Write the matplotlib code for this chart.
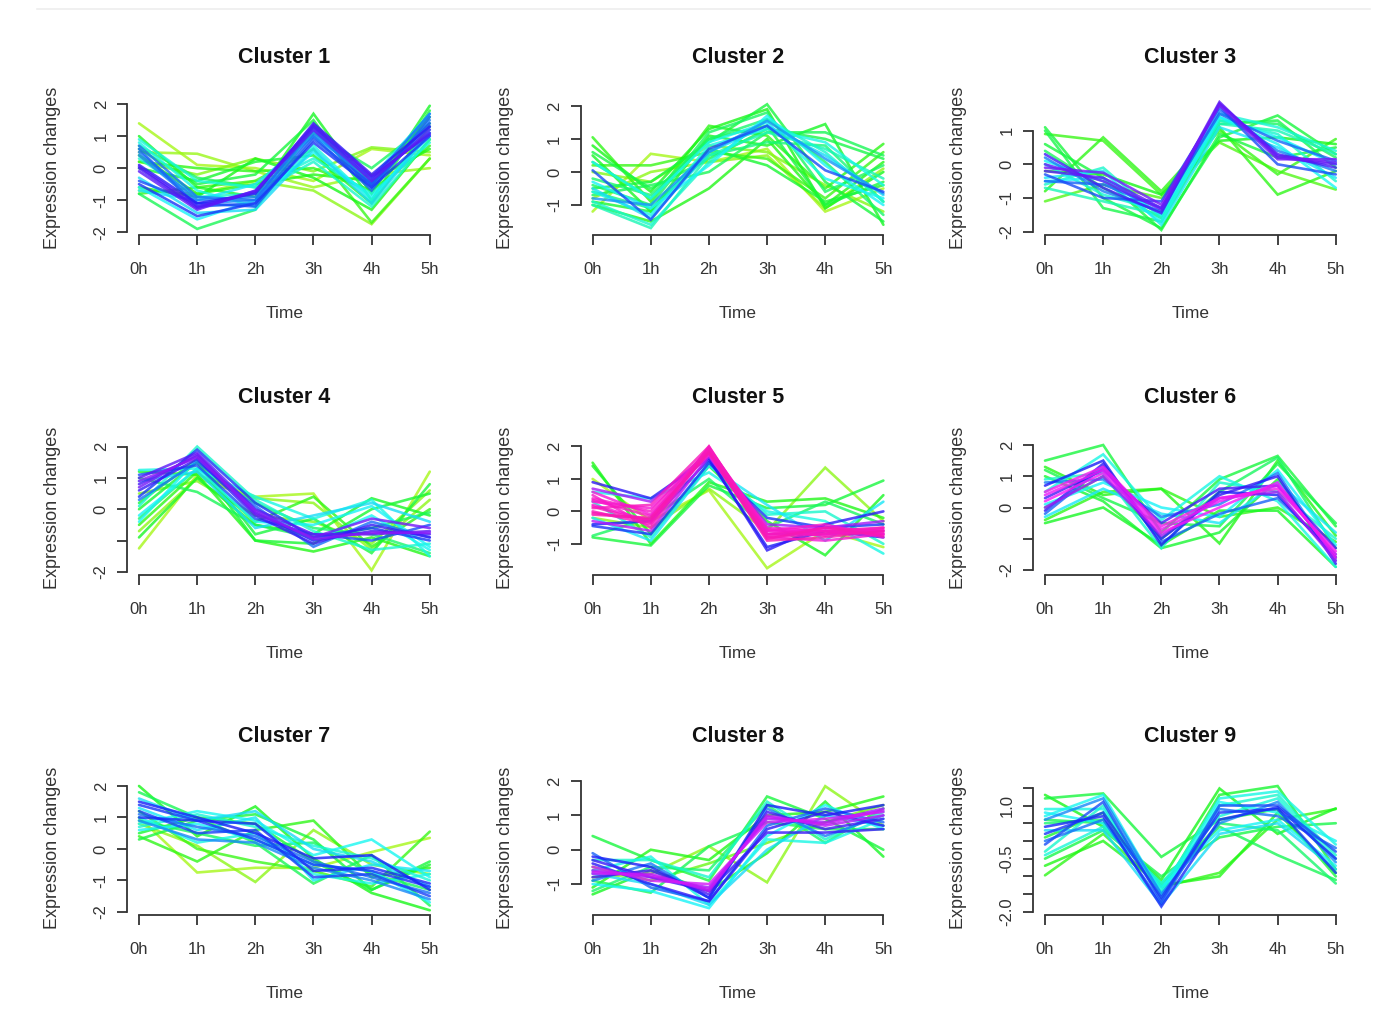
import matplotlib
matplotlib.use("Agg")
import matplotlib.pyplot as plt
from matplotlib.colors import hsv_to_rgb
from matplotlib.lines import Line2D

plt.rcParams['font.family'] = ['Liberation Sans', 'DejaVu Sans']

time_labels = ['0h', '1h', '2h', '3h', '4h', '5h']
cluster_titles = ['Cluster %d' % i for i in range(1, 10)]

# ---- Cluster 1 ----
c1_values = [
    [1.4, 0.1, 0.0, -0.4, 0.6, 0.4], [0.5, 0.45, -0.1, -0.6, -0.2, 0.0],
    [-0.7, -0.8, -0.4, -0.7, -1.75, 0.3], [0.2, -0.2, 0.3, -0.1, 0.65, 0.5],
    [1.0, -0.6, -0.9, 1.7, -0.8, 1.95], [0.6, -0.5, -0.2, 1.5, -1.0, 1.8],
    [-0.8, -1.9, -1.3, 1.3, -0.5, 1.6], [0.2, 0.0, -0.1, 0.0, -0.7, 0.7],
    [-0.6, -0.9, 0.3, -0.3, -1.3, 0.9], [0.4, -0.8, -0.5, -0.2, -0.4, 0.6],
    [-0.8, -0.6, -0.4, 0.6, -1.7, 0.3], [0.7, -0.3, -0.6, 1.1, 0.0, 1.4],
    [0.0, -0.4, 0.2, 0.4, -1.1, 1.3],
    [0.8, -0.7, -1.2, 0.7, -1.0, 1.2], [-0.6, -1.6, -1.0, 0.5, -0.9, 1.0],
    [0.3, -0.9, -0.8, 0.2, -1.2, 0.9], [-0.3, -1.4, -1.3, 0.6, -1.1, 1.1],
    [0.9, -0.4, -0.6, 0.3, -0.8, 0.8], [-0.7, -1.0, -0.5, 1.0, -0.3, 1.7],
    [0.5, -1.0, -0.9, 1.2, -0.6, 1.5], [0.6, -1.2, -1.1, 1.0, -0.7, 1.6],
    [-0.4, -1.1, -1.2, 0.9, -0.5, 1.4], [-0.5, -1.5, -1.1, 0.8, -0.6, 1.0],
    [0.4, -1.1, -1.0, 1.1, -0.5, 1.3], [0.7, -0.9, -1.0, 1.3, -0.4, 1.7],
    [0.0, -1.25, -0.75, 1.3, -0.3, 1.1], [0.1, -1.1, -0.8, 1.4, -0.2, 1.3],
    [-0.1, -1.3, -0.7, 1.2, -0.4, 1.2], [0.05, -1.2, -0.72, 1.35, -0.25, 1.05],
]
c1_membership = [0.15, 0.16, 0.17, 0.18,
                 0.28, 0.3, 0.32, 0.25, 0.27, 0.26, 0.24, 0.33, 0.29,
                 0.44, 0.46, 0.42, 0.48, 0.43, 0.47,
                 0.56, 0.58, 0.6, 0.62, 0.55, 0.57,
                 0.68, 0.66, 0.7, 0.69]

# ---- Cluster 2 ----
c2_values = [
    [-1.2, 0.55, 0.3, 0.7, -1.2, -0.5], [-0.8, 0.0, 0.3, 0.5, -1.1, 0.1],
    [0.0, -0.3, 0.8, 0.6, -0.4, -1.2],
    [1.05, -0.9, 1.4, 1.1, -0.5, 0.85], [0.8, -0.6, 1.3, 1.9, -1.1, 0.0],
    [-0.5, -0.3, 0.9, 2.05, -0.3, -1.5], [0.5, -1.2, 1.1, 0.8, 1.45, -1.6],
    [-0.7, -0.4, 0.0, 1.2, 1.2, 0.5], [-1.0, -1.5, -0.5, 1.0, -1.0, 0.3],
    [0.2, 0.2, 0.6, 0.4, -0.8, 0.6], [-0.2, -0.7, 1.0, 1.6, 0.3, -1.3],
    [-0.9, -1.2, 0.7, 0.2, -0.9, -0.4], [0.6, -0.5, 0.4, 1.3, 1.0, 0.4],
    [-0.4, -1.0, 1.2, 1.8, -0.6, 0.2], [0.3, -0.8, 1.0, 1.4, -1.0, -0.3],
    [-0.6, -1.1, 0.5, 0.9, 0.8, -0.9],
    [-0.9, -1.6, 0.3, 1.6, 0.6, -0.9], [-0.6, -1.3, 0.8, 1.3, 0.9, -0.4],
    [-0.3, -1.1, 0.2, 1.7, 0.2, -1.0], [-1.0, -1.7, 0.5, 1.2, 0.7, -0.2],
    [0.3, -0.8, 0.9, 1.5, -0.2, -0.8], [-0.5, -1.4, 0.6, 1.4, 0.5, -0.7],
    [-0.8, -1.0, 0.6, 1.55, 0.4, -0.65], [0.05, -1.45, 0.7, 1.4, 0.05, -0.6],
]
c2_membership = [0.15, 0.17, 0.18,
                 0.25, 0.27, 0.3, 0.28, 0.32, 0.26, 0.24, 0.34, 0.29, 0.31, 0.33,
                 0.3, 0.35,
                 0.42, 0.44, 0.46, 0.4, 0.45, 0.48,
                 0.54, 0.6]

# ---- Cluster 3 ----
c3_values = [
    [1.1, -1.0, -1.9, 0.8, 1.45, 0.3], [0.9, 0.7, -0.9, 1.0, -0.3, 0.75],
    [-1.1, -0.6, -1.0, 0.65, -0.2, -0.75], [1.0, -1.3, -1.7, 1.2, 1.3, -0.1],
    [-0.8, 0.8, -0.8, 1.1, -0.9, -0.2], [0.6, -0.4, -1.95, 0.9, 0.2, 0.5],
    [-0.2, -0.3, -0.9, 0.7, 0.8, 0.6], [0.4, -0.7, -1.6, 1.3, 1.2, 0.2],
    [-0.6, -0.1, -1.6, 1.3, 0.9, -0.5], [0.1, -0.5, -1.7, 1.4, 0.6, -0.7],
    [-0.7, -1.1, -1.5, 1.2, 1.0, 0.3], [-0.4, -0.2, -1.8, 1.1, 0.5, -0.4],
    [0.0, -0.9, -1.4, 1.5, 1.1, 0.4], [-0.5, -0.4, -1.5, 1.4, 0.8, 0.0],
    [0.2, -0.8, -1.4, 1.6, 0.4, -0.2], [-0.5, -0.6, -1.3, 1.5, 0.7, 0.1],
    [-0.3, -1.0, -1.1, 1.7, 0.0, -0.3],
    [-0.2, -0.4, -1.3, 1.85, 0.2, 0.0], [0.3, -0.7, -1.45, 1.8, 0.3, -0.1],
    [-0.1, -0.25, -1.2, 1.75, 0.15, 0.15], [0.0, -0.5, -1.35, 1.8, 0.25, 0.05],
]
c3_membership = [0.3, 0.24, 0.22, 0.31, 0.25, 0.3, 0.27, 0.33,
                 0.42, 0.45, 0.4, 0.47, 0.43, 0.46,
                 0.56, 0.58, 0.6,
                 0.7, 0.68, 0.72, 0.71]

# ---- Cluster 4 ----
c4_values = [
    [-1.25, 1.1, 0.4, 0.5, -1.95, 1.2], [-0.7, 1.0, 0.35, 0.2, -1.3, 0.3],
    [0.5, 0.9, -0.2, -0.4, -1.1, 0.6],
    [1.2, 1.1, -1.0, -1.35, -0.9, -1.5], [-0.9, 1.0, -0.5, -0.8, 0.35, -0.2],
    [0.2, 1.6, -0.8, -0.3, -1.4, 0.8], [-0.5, 1.2, -0.4, 0.4, -1.2, 0.0],
    [1.0, 0.55, -0.5, -0.9, -0.6, -0.1], [0.0, 1.5, -1.0, -1.1, 0.0, 0.5],
    [-0.3, 1.3, 0.2, -0.6, -0.8, -1.4],
    [1.25, 1.3, 0.4, -0.3, 0.3, -1.5], [-0.2, 1.3, -0.4, -0.5, 0.1, -1.2],
    [0.1, 2.0, 0.3, -0.7, -1.3, -1.1], [0.9, 1.2, -0.6, -0.2, 0.2, -0.4],
    [-0.4, 1.6, 0.0, -1.0, -0.2, -1.3],
    [0.3, 1.5, 0.1, -1.2, -0.4, -0.9], [1.1, 1.4, -0.3, -0.8, -1.0, -0.5],
    [0.4, 1.9, 0.2, -0.9, -0.6, -1.0],
    [0.8, 1.7, -0.1, -1.0, -0.7, -0.8], [1.0, 1.8, 0.0, -0.8, -0.8, -0.7],
    [0.6, 1.6, -0.2, -1.1, -0.5, -0.9], [0.7, 1.75, -0.15, -0.9, -0.3, -0.6],
    [0.9, 1.65, -0.05, -0.95, -0.75, -0.75],
]
c4_membership = [0.15, 0.17, 0.18,
                 0.26, 0.28, 0.3, 0.25, 0.32, 0.29, 0.34,
                 0.44, 0.46, 0.42, 0.48, 0.45,
                 0.57, 0.6, 0.62,
                 0.68, 0.7, 0.67, 0.72, 0.74]

# ---- Cluster 5 ----
c5_values = [
    [1.0, -0.3, 0.65, -1.75, -0.6, -1.1], [-0.2, -0.5, 0.7, -0.6, 1.35, -0.3],
    [1.5, -1.0, 0.9, 0.3, 0.4, -0.2], [1.4, -0.7, 1.4, -0.3, -1.35, 0.5],
    [-0.8, -1.05, 0.8, 0.1, 0.2, 0.95], [-0.75, -0.2, 1.0, -0.5, 0.3, -0.4],
    [0.6, 0.4, 1.2, 0.0, -0.3, -1.3], [-0.2, -0.9, 1.4, 0.2, -0.9, 0.3],
    [0.3, -0.8, 1.5, -0.1, 0.0, -1.0],
    [0.9, 0.4, 1.65, -1.2, -0.4, 0.0], [-0.4, -0.3, 1.6, -1.1, -0.6, -0.8],
    [-0.45, -0.7, 1.5, -0.2, -0.5, -0.4],
    [0.7, 0.3, 1.8, -0.4, -0.5, -0.3], [-0.3, -0.6, 1.7, -0.7, -0.7, -0.6],
    [0.2, -0.3, 1.95, -0.6, -0.6, -0.7], [0.4, 0.0, 1.9, -0.7, -0.5, -0.6],
    [0.0, -0.4, 2.0, -0.8, -0.7, -0.5], [0.3, 0.1, 1.85, -0.5, -0.6, -0.7],
    [-0.1, -0.2, 1.8, -0.9, -0.8, -0.6], [0.5, -0.5, 1.9, -0.6, -0.4, -0.8],
    [0.1, 0.2, 2.0, -0.7, -0.6, -0.5], [0.6, -0.1, 1.75, -0.8, -0.9, -0.7],
    [0.15, -0.35, 1.9, -0.75, -0.65, -0.65], [0.35, -0.15, 1.95, -0.55, -0.75, -0.55],
    [-0.05, -0.25, 1.85, -0.85, -0.5, -0.75],
]
c5_membership = [0.15, 0.17,
                 0.26, 0.28, 0.3, 0.33,
                 0.44, 0.47, 0.42,
                 0.66, 0.64, 0.62,
                 0.76, 0.78,
                 0.86, 0.87, 0.88, 0.86, 0.89, 0.87, 0.88, 0.86,
                 0.88, 0.87, 0.89]

# ---- Cluster 6 ----
c6_values = [
    [1.5, 2.0, -0.8, 0.9, 1.65, -0.6], [1.3, 0.4, 0.6, -1.15, 1.5, -0.9],
    [-0.5, 0.0, -1.2, -0.1, -0.1, -1.9], [1.2, 0.3, -0.5, -0.6, 1.4, -0.5],
    [-0.4, 0.5, 0.6, -0.3, 0.0, -1.1], [0.0, 1.0, -1.0, 0.5, 1.6, -1.3],
    [1.0, 0.2, -1.3, -0.8, 0.9, -1.6],
    [0.5, 1.7, -0.4, 1.0, 0.2, -1.9], [0.1, 0.8, 0.0, -0.3, 1.2, -1.2],
    [0.9, 1.1, -1.3, 0.8, 0.5, -1.0], [-0.3, 0.6, -0.2, -0.5, 0.8, -0.8],
    [0.8, 0.9, -0.3, 0.1, 1.1, -1.7], [-0.2, 1.3, -1.1, -0.2, 0.3, -1.5],
    [0.7, 1.5, -1.2, 0.5, 0.4, -1.6], [-0.1, 1.4, -1.0, 0.4, 1.0, -1.8],
    [0.3, 1.2, -0.5, 0.6, 0.7, -1.3],
    [0.0, 1.0, -0.9, 0.3, 0.5, -1.7],
    [0.4, 1.2, -0.7, 0.2, 0.7, -1.5], [0.2, 1.1, -0.8, 0.0, 0.8, -1.6],
    [0.5, 1.3, -0.6, 0.3, 0.6, -1.4],
]
c6_membership = [0.3, 0.26, 0.28, 0.31, 0.25, 0.33, 0.29,
                 0.44, 0.46, 0.42, 0.47,
                 0.56, 0.58,
                 0.64, 0.66, 0.68,
                 0.76,
                 0.82, 0.83, 0.84]

# ---- Cluster 7 ----
c7_values = [
    [1.0, -0.75, -0.6, -0.6, -0.1, 0.35], [0.8, 0.1, -1.05, 0.6, -0.5, -0.8],
    [2.0, 0.4, 1.35, -0.3, -1.4, -1.95], [0.3, 0.9, 1.1, 0.3, -1.3, -0.4],
    [1.8, 1.0, 0.2, -1.1, -0.2, -1.8], [0.4, -0.4, 0.6, 0.9, -0.9, -0.6],
    [1.2, 0.0, -0.4, -0.7, -1.2, 0.55], [0.9, 0.5, 0.1, 0.2, -0.8, -1.3],
    [0.5, 1.0, 0.8, -0.4, -1.3, -0.5],
    [0.8, 1.2, 0.9, -0.2, 0.3, -0.9], [1.3, 0.6, 1.0, -1.0, -0.5, -0.7],
    [0.7, 1.1, 0.7, 0.1, -0.3, -1.0], [1.0, 0.2, 0.5, -0.8, -1.1, -0.8],
    [1.6, 0.9, 1.2, 0.0, -0.4, -1.2], [0.6, 0.8, 0.3, -0.5, -0.7, -1.7],
    [0.9, 0.3, 0.2, -0.6, -1.0, -1.6], [1.1, 0.7, 0.4, -0.4, -0.9, -1.4],
    [1.4, 0.9, 0.3, -0.5, -0.7, -1.2], [1.0, 0.9, 0.8, -0.7, -0.6, -1.1],
    [1.5, 1.0, 0.5, -0.3, -0.2, -1.3], [1.2, 0.5, 0.6, -0.9, -0.8, -1.5],
]
c7_membership = [0.15, 0.17,
                 0.27, 0.3, 0.32, 0.25, 0.24, 0.33, 0.29,
                 0.45, 0.47, 0.43, 0.44, 0.48, 0.46,
                 0.55, 0.57,
                 0.62, 0.63, 0.64, 0.61]

# ---- Cluster 8 ----
c8_values = [
    [-0.8, -0.7, 0.1, -0.95, 1.85, 0.7], [-0.5, -0.9, -0.4, 0.2, 0.8, 1.3],
    [0.4, -0.3, -0.9, 1.55, 0.9, 0.0], [-1.3, -0.6, -1.2, -0.1, 1.4, -0.2],
    [-1.1, 0.0, -0.3, 1.0, 1.1, 1.55], [-0.9, -1.25, 0.1, 0.8, 0.6, 0.6],
    [-1.2, -0.5, -0.6, 1.3, 0.2, 1.2],
    [-0.6, -0.2, -1.6, 0.3, 0.2, 0.9], [-1.0, -1.2, -1.7, 0.4, 1.3, 0.6],
    [-0.3, -0.3, -0.8, 1.4, 0.3, 1.1], [-0.7, -1.0, -1.6, 0.0, 1.0, 0.7],
    [-0.9, -0.4, -1.4, 1.2, 0.4, 1.0], [-0.1, -1.1, -1.5, 0.7, 1.2, 0.8],
    [-0.2, -0.5, -1.4, 1.3, 1.0, 1.3], [-0.4, -1.0, -1.5, 0.6, 1.1, 0.7],
    [-0.8, -0.6, -1.3, 1.1, 0.6, 0.9], [-0.3, -0.8, -1.2, 0.5, 0.5, 0.6],
    [-0.6, -0.8, -1.1, 0.9, 0.8, 1.2], [-0.7, -0.7, -1.2, 1.0, 0.7, 1.0],
    [-0.5, -0.9, -1.0, 0.8, 0.9, 1.1], [-0.65, -0.75, -1.15, 0.95, 0.75, 1.15],
]
c8_membership = [0.17, 0.2,
                 0.3, 0.28, 0.26, 0.32, 0.34,
                 0.44, 0.46, 0.42, 0.48,
                 0.56, 0.58,
                 0.64, 0.66, 0.68, 0.67,
                 0.76, 0.78, 0.8, 0.79]

# ---- Cluster 9 ----
c9_values = [
    [1.3, 0.4, -1.1, 1.48, 0.2, 0.92], [1.2, 1.34, -0.45, 0.6, 0.9, -1.0],
    [-0.97, 0.2, -1.3, -0.9, 0.6, 0.9], [-0.7, 0.0, -1.25, -1.0, 0.8, -0.9],
    [0.6, 0.5, -1.2, 0.4, -0.4, -1.1], [0.1, 0.8, -1.45, 1.3, 1.55, -0.8],
    [-0.5, 0.3, -1.0, 0.1, 0.4, 0.5], [0.5, 0.6, -1.3, 0.5, 0.3, -1.2],
    [0.9, 0.9, -1.4, 1.2, 1.4, -0.1], [0.8, 0.5, -1.3, 0.3, 0.6, -0.7],
    [-0.3, 1.0, -1.6, 1.0, 1.3, -0.4], [0.3, 0.3, -1.8, 0.2, 0.5, -0.8],
    [0.7, 1.3, -1.5, 1.1, 0.8, 0.0], [-0.4, 0.4, -1.2, 0.7, 1.2, -0.5],
    [0.6, 1.2, -1.5, 0.5, 1.1, -0.6], [0.0, 0.6, -1.75, 0.9, 0.7, -0.2],
    [0.4, 0.7, -1.85, 0.6, 0.95, -0.5], [-0.1, 1.1, -1.7, 1.0, 1.0, -0.3],
    [0.2, 0.8, -1.6, 0.8, 0.9, -0.9],
]
c9_membership = [0.27, 0.3, 0.25, 0.26, 0.32, 0.29, 0.31, 0.34,
                 0.44, 0.46, 0.42, 0.48, 0.45, 0.43,
                 0.55, 0.57,
                 0.63, 0.6, 0.62]

cluster_values = [c1_values, c2_values, c3_values, c4_values, c5_values,
                  c6_values, c7_values, c8_values, c9_values]
cluster_membership = [c1_membership, c2_membership, c3_membership,
                      c4_membership, c5_membership, c6_membership,
                      c7_membership, c8_membership, c9_membership]

y_ticks = [
    [-2, -1, 0, 1, 2], [-1, 0, 1, 2], [-2, -1, 0, 1],
    [-2, -1, 0, 1, 2], [-1, 0, 1, 2], [-2, -1, 0, 1, 2],
    [-2, -1, 0, 1, 2], [-1, 0, 1, 2], [-2.0, -1.5, -1.0, -0.5, 0.0, 0.5, 1.0, 1.5],
]
y_tick_labels = [
    ['-2', '-1', '0', '1', '2'], ['-1', '0', '1', '2'], ['-2', '-1', '0', '1'],
    ['-2', '', '0', '1', '2'], ['-1', '0', '1', '2'], ['-2', '', '0', '1', '2'],
    ['-2', '-1', '0', '1', '2'], ['-1', '0', '1', '2'],
    ['-2.0', '', '', '-0.5', '', '', '1.0', ''],
]
y_limits = [(-2.09, 2.13), (-1.91, 2.18), (-2.10, 1.91),
            (-2.10, 2.21), (-1.96, 2.20), (-2.16, 2.16),
            (-2.10, 2.19), (-1.90, 2.03), (-2.09, 1.72)]


def membership_color(m):
    hue = ((34.0 + 320.0 * m) % 360.0) / 360.0
    return hsv_to_rgb((hue, 0.9, 0.97))


W, H = 1385, 1036
fig = plt.figure(figsize=(W / 100, H / 100), dpi=100)
fig.patch.set_facecolor('white')

col_left = [127.4, 581.0, 1033.4]
row_bottom = [235.0, 575.0, 915.0]
ax_w, ax_h = 314.0, 135.0
axis_col = '#333333'
x = list(range(len(time_labels)))

for k in range(9):
    r, c = divmod(k, 3)
    L = col_left[c]
    B = row_bottom[r]
    ax = fig.add_axes([L / W, (H - B) / H, ax_w / W, ax_h / H])
    vals = cluster_values[k]
    mems = cluster_membership[k]
    order = sorted(range(len(vals)), key=lambda i: mems[i])
    for i in order:
        ax.plot(x, vals[i], color=membership_color(mems[i]), lw=1.9,
                alpha=0.8, solid_capstyle='round', solid_joinstyle='miter')
    ax.set_xlim(-0.2, 5.2)
    ax.set_ylim(*y_limits[k])
    for s in ['top', 'right']:
        ax.spines[s].set_visible(False)
    for s in ['left', 'bottom']:
        ax.spines[s].set_color(axis_col)
        ax.spines[s].set_linewidth(1.3)
    ax.spines['bottom'].set_bounds(0, 5)
    ax.spines['left'].set_bounds(min(y_ticks[k]), max(y_ticks[k]))
    ax.set_xticks(x)
    ax.set_xticklabels(time_labels)
    ax.set_yticks(y_ticks[k])
    ax.set_yticklabels(y_tick_labels[k], rotation=90, va='center', ha='right')
    ax.tick_params(axis='x', direction='out', length=7.5, width=1.3,
                   color=axis_col, labelsize=12, labelcolor='#333333', pad=12)
    ax.tick_params(axis='y', direction='out', length=7.5, width=1.3,
                   color=axis_col, labelsize=12, labelcolor='#333333', pad=6)
    ax.patch.set_alpha(0)
    cx = L + ax_w / 2
    fig.text(cx / W, 1 - 57 / H - r * 340 / H, cluster_titles[k],
             ha='center', va='center', fontsize=15.5, fontweight='bold',
             color='#111111')
    fig.text(cx / W, 1 - (B + 78) / H, 'Time', ha='center', va='center',
             fontsize=12.5, color='#333333')
    fig.text((L - 75) / W, 1 - (B - ax_h / 2) / H, 'Expression changes',
             rotation=90, ha='center', va='center', fontsize=13,
             color='#333333')

fig.add_artist(Line2D([37 / W, 1370 / W], [1 - 9 / H, 1 - 9 / H],
                      color='#eeeeee', lw=1.2))

fig.savefig('out.png', dpi=100, facecolor='white')
